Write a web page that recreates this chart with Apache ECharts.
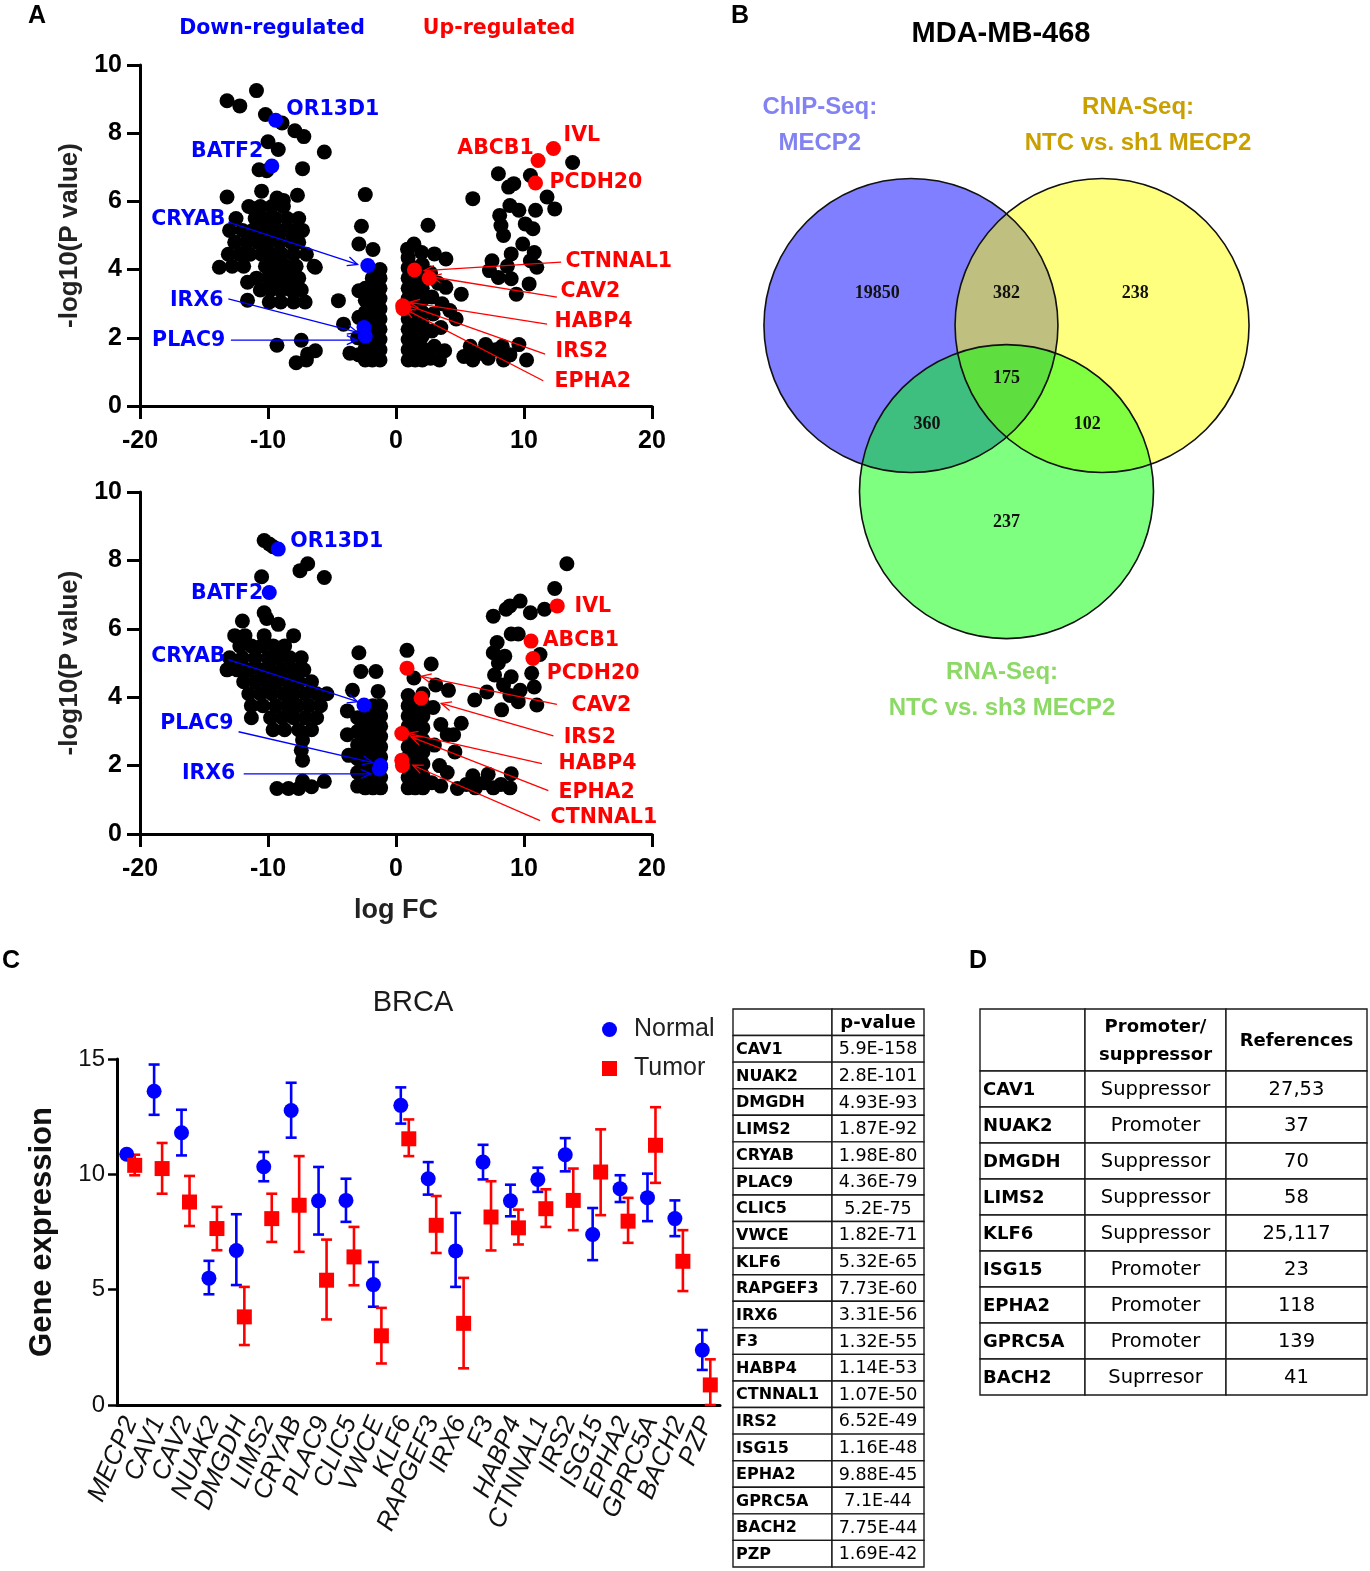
<!DOCTYPE html>
<html>
<head>
<meta charset="utf-8">
<title>MECP2 targets figure</title>
<script src="https://cdn.jsdelivr.net/npm/echarts/dist/echarts.min.js"></script>
<style>
html,body{margin:0;padding:0;background:#ffffff;}
#chart{width:1370px;height:1571px;}
</style>
</head>
<body>
<div id="chart"></div>
<script>
// ===================== DATA =====================
// Panel A (top) volcano: [logFC, -log10(P)]
const volcano1Points = [
 [-10.9,9.25],[-13.2,8.95],[-12.2,8.8],[-10.2,8.55],[-8.9,8.3],[-7.9,8.07],[-7.2,7.9],[-5.6,7.45],[-10.0,7.75],[-9.2,7.52],
 [-10.7,6.93],[-10.1,6.9],[-7.3,6.96],[-13.2,6.13],[-10.5,6.3],[-9.3,6.1],[-8.8,6.03],[-7.7,6.18],[-11.1,5.78],
 [-11.5,5.85],[-10.6,5.85],[-9.7,5.85],[-8.8,5.85],
 [-12.5,5.5],[-11.0,5.5],[-10.2,5.5],[-9.4,5.5],[-8.5,5.5],[-7.6,5.5],
 [-13.0,5.15],[-12.0,5.15],[-11.2,5.15],[-10.4,5.15],[-9.6,5.15],[-8.8,5.15],[-8.0,5.15],[-7.3,5.15],
 [-12.6,4.8],[-11.7,4.8],[-10.8,4.8],[-10.0,4.8],[-9.1,4.8],[-8.2,4.8],[-7.6,4.8],
 [-13.1,4.45],[-12.2,4.45],[-11.4,4.45],[-10.5,4.45],[-9.7,4.45],[-8.9,4.45],[-8.0,4.45],[-7.0,4.45],
 [-12.8,4.1],[-11.9,4.1],[-10.2,4.1],[-9.4,4.1],[-8.6,4.1],[-7.8,4.1],[-6.4,4.1],
 [-10.9,3.75],[-10.0,3.75],[-9.2,3.75],[-8.4,3.75],[-7.6,3.75],
 [-10.6,3.4],[-9.8,3.4],[-9.0,3.4],[-8.2,3.4],[-7.4,3.4],
 [-9.9,3.05],[-9.0,3.05],[-8.0,3.05],[-7.1,3.05],
 [-13.8,4.07],[-11.6,3.63],[-11.6,3.1],[-6.3,4.07],[-4.5,3.09],
 [-9.3,1.78],[-7.4,1.93],[-7.8,1.27],[-6.9,1.52],[-6.3,1.62],[-7.0,1.35],
 [-2.4,6.2],[-2.7,5.27],[-2.9,4.75],[-1.8,4.59],[-2.9,3.38],[-4.1,2.4],[-3.6,1.55],
 [-1.25,1.35],[-1.25,1.65],[-1.25,1.95],[-1.25,2.25],[-1.25,2.55],[-1.25,2.85],[-1.25,3.15],[-1.25,3.45],[-1.25,3.75],[-1.25,4.0],
 [-1.85,1.35],[-1.85,1.65],[-1.85,1.95],[-1.85,2.25],[-1.85,2.55],[-1.85,2.85],[-1.85,3.15],[-1.85,3.45],[-1.85,3.75],
 [-2.4,1.35],[-2.4,1.7],[-2.4,2.05],[-2.4,2.4],[-2.4,2.75],[-2.4,3.1],[-2.4,3.45],
 [-2.9,1.5],[-3.0,2.0],[-2.9,2.6],
 [0.95,1.35],[0.95,1.65],[0.95,1.95],[0.95,2.25],[0.95,2.55],[0.95,2.85],[0.95,3.15],[0.95,3.45],[0.95,3.75],[0.95,4.05],[0.95,4.35],
 [1.5,1.35],[1.5,1.65],[1.5,1.95],[1.5,2.25],[1.5,2.55],[1.5,2.85],[1.5,3.15],[1.5,3.45],[1.5,3.75],[1.5,4.05],
 [2.05,1.35],[2.05,1.7],[2.05,2.05],[2.05,2.4],[2.05,2.75],[2.05,3.1],[2.05,3.45],[2.05,3.8],[2.05,4.15],
 [2.5,5.3],[1.4,4.75],[0.9,4.6],[2.0,4.5],[3.0,4.46],[3.9,4.31],[2.7,3.9],[3.3,3.6],[3.9,3.48],[5.1,3.28],[2.8,3.2],[3.6,3.0],
 [2.9,2.7],[4.2,2.8],[4.7,2.55],[2.8,2.2],[3.5,2.3],[3.0,1.75],[3.8,1.62],[2.7,1.4],[3.4,1.35],
 [5.3,1.45],[6.0,1.35],[6.6,1.55],[7.2,1.4],[7.8,1.65],[8.4,1.35],[8.9,1.5],[9.6,1.8],[10.2,1.35],[5.8,1.75],[7.0,1.8],[8.3,1.75],
 [6.0,6.08],[8.0,6.81],[8.8,6.42],[9.2,6.52],[10.5,6.76],[13.8,7.14],[11.8,6.13],[12.4,5.78],[8.9,5.88],[9.6,5.74],[10.9,5.74],
 [8.1,5.59],[8.2,5.29],[10.1,5.34],[10.7,5.2],[8.4,5.0],[9.9,4.75],[9.0,4.46],[7.5,4.26],[10.5,4.26],[11.0,4.07],[7.3,3.97],
 [8.0,3.77],[9.0,3.73],[10.4,3.58],[9.4,3.28],[8.7,4.1],[10.8,4.5]
];
const volcano1Down = [['OR13D1',-9.4,8.38],['BATF2',-9.7,7.04],['CRYAB',-2.2,4.12],['IRX6',-2.5,2.3],['PLAC9',-2.4,2.05]];
const volcano1Up = [['ABCB1',11.1,7.2],['IVL',12.3,7.55],['PCDH20',10.9,6.54],['CTNNAL1',1.44,3.99],['CAV2',2.6,3.75],['HABP4',0.52,2.94],['IRS2',0.6,2.9],['EPHA2',0.55,2.85]];

// Panel A (bottom) volcano
const volcano2Points = [
 [-10.3,8.58],[-9.9,8.48],[-9.6,8.4],[-6.9,7.9],[-7.5,7.7],[-5.6,7.5],[-10.5,7.52],[-10.3,6.47],[-10.1,6.3],[-12.0,6.23],[-9.2,6.13],
 [-12.6,5.8],[-11.8,5.8],[-10.3,5.8],[-8.0,5.8],
 [-12.2,5.5],[-11.3,5.5],[-10.5,5.5],[-9.6,5.5],[-8.7,5.5],
 [-13.0,5.15],[-12.0,5.15],[-11.0,5.15],[-10.0,5.15],[-9.2,5.15],[-8.3,5.15],[-7.4,5.15],
 [-13.2,4.8],[-12.4,4.8],[-11.5,4.8],[-10.6,4.8],[-9.8,4.8],[-8.9,4.8],[-8.0,4.8],[-7.2,4.8],
 [-11.9,4.45],[-11.0,4.45],[-10.1,4.45],[-9.3,4.45],[-8.4,4.45],[-7.6,4.45],[-6.6,4.45],
 [-11.5,4.1],[-10.6,4.1],[-9.7,4.1],[-8.8,4.1],[-8.0,4.1],[-7.1,4.1],[-6.2,4.1],[-5.4,4.1],
 [-11.3,3.75],[-10.4,3.75],[-9.4,3.75],[-8.5,3.75],[-7.7,3.75],[-6.8,3.75],[-5.9,3.75],
 [-11.3,3.4],[-9.8,3.4],[-8.9,3.4],[-8.0,3.4],[-7.1,3.4],[-6.2,3.4],
 [-9.6,3.05],[-8.7,3.05],[-7.6,3.05],[-6.6,3.05],
 [-7.3,2.75],[-7.3,2.16],[-7.4,2.45],
 [-9.3,1.33],[-8.4,1.33],[-7.6,1.33],[-6.6,1.38],[-5.6,1.54],[-7.3,1.55],
 [-2.9,5.3],[-2.75,4.75],[-1.57,4.75],[-3.4,4.2],[-1.4,4.17],
 [-1.2,1.35],[-1.2,1.65],[-1.2,1.95],[-1.2,2.25],[-1.2,2.55],[-1.2,2.85],[-1.2,3.15],[-1.2,3.45],[-1.2,3.75],
 [-1.8,1.35],[-1.8,1.65],[-1.8,1.95],[-1.8,2.25],[-1.8,2.55],[-1.8,2.85],[-1.8,3.15],[-1.8,3.45],[-1.8,3.75],
 [-2.4,1.35],[-2.4,1.7],[-2.4,2.05],[-2.4,2.4],[-2.4,2.75],[-2.4,3.1],[-2.4,3.45],
 [-3.0,1.4],[-3.0,1.8],[-3.0,2.2],[-3.0,2.6],[-3.0,3.0],[-3.0,3.4],
 [-3.8,3.6],[-3.8,2.9],[-3.7,2.3],
 [0.95,1.35],[0.95,1.65],[0.95,1.95],[0.95,2.25],[0.95,2.55],[0.95,2.85],[0.95,3.15],[0.95,3.45],[0.95,3.75],[0.95,4.05],
 [1.5,1.35],[1.5,1.65],[1.5,1.95],[1.5,2.25],[1.5,2.55],[1.5,2.85],[1.5,3.15],[1.5,3.45],[1.5,3.75],
 [2.1,1.35],[2.1,1.7],[2.1,2.05],[2.1,2.4],[2.1,2.75],[2.1,3.1],[2.1,3.45],[2.1,3.8],[2.1,4.1],
 [0.86,5.37],[1.4,4.56],[2.75,4.97],[3.1,4.36],[4.1,4.2],[5.1,3.24],[2.9,3.7],[3.5,3.2],[4.0,2.9],[3.0,2.6],[4.6,2.4],
 [3.4,2.0],[4.0,1.8],[2.8,1.5],[3.5,1.4],[4.5,2.9],
 [4.8,1.33],[5.5,1.45],[6.2,1.35],[6.9,1.5],[7.6,1.35],[8.2,1.45],[8.9,1.35],[9.0,1.76],[6.0,1.7],[7.2,1.75],
 [13.35,7.9],[12.4,7.18],[11.6,6.57],[10.5,6.47],[9.7,6.81],[8.9,6.67],[8.6,6.57],[7.6,6.37],[9.0,5.85],[9.55,5.85],[7.9,5.6],
 [11.25,5.25],[8.5,5.2],[8.0,5.0],[7.7,4.65],[9.0,4.6],[10.6,4.7],[8.4,4.36],[6.15,3.92],[7.1,4.15],[8.25,3.63],[9.55,3.87],
 [11.0,3.77],[9.7,4.2],[10.8,4.3],[8.9,4.05],[7.6,5.3]
];
const volcano2Down = [['OR13D1',-9.2,8.33],['BATF2',-9.9,7.06],['CRYAB',-2.5,3.77],['PLAC9',-1.2,2.0],['IRX6',-1.3,1.9]];
const volcano2Up = [['IVL',12.6,6.67],['ABCB1',10.55,5.64],['PCDH20',10.7,5.13],['CAV2',0.86,4.85],['IRS2',1.96,3.97],['HABP4',0.45,2.94],['EPHA2',0.45,2.16],['CTNNAL1',0.5,2.0]];
const volcanoXTicks = [-20, 10]; // min, interval
const volcanoYTicks = [0, 2];

// Panel B: Venn
const vennSetNames = ['ChIP-Seq:\nMECP2', 'RNA-Seq:\nNTC vs. sh1 MECP2', 'RNA-Seq:\nNTC vs. sh3 MECP2'];
const vennTitle = 'MDA-MB-468';
const vennRegionNames = ['ChIP only', 'ChIP & sh1', 'sh1 only', 'all three', 'ChIP & sh3', 'sh1 & sh3', 'sh3 only'];
const vennCounts = [19850, 382, 238, 175, 360, 102, 237];

// Panel C: gene expression BRCA
const exprGenes = ['MECP2','CAV1','CAV2','NUAK2','DMGDH','LIMS2','CRYAB','PLAC9','CLIC5','VWCE','KLF6','RAPGEF3','IRX6','F3','HABP4','CTNNAL1','IRS2','ISG15','EPHA2','GPRC5A','BACH2','PZP'];
const normalMean = [10.87,13.6,11.8,5.5,6.7,10.33,12.77,8.85,8.87,5.22,12.99,9.81,6.68,10.53,8.85,9.78,10.85,7.39,9.38,8.99,8.08,2.38];
const normalLow  = [10.75,12.58,10.82,4.8,5.2,9.7,11.59,7.39,7.94,4.26,12.2,9.12,5.12,9.78,8.18,9.24,10.13,6.28,8.8,7.97,7.32,1.52];
const normalHigh = [11.0,14.76,12.8,6.25,8.27,10.97,13.97,10.32,9.81,6.2,13.77,10.53,8.33,11.28,9.55,10.29,11.57,8.54,9.96,10.03,8.87,3.25];
const tumorMean  = [10.39,10.25,8.8,7.65,3.82,8.08,8.66,5.41,6.42,3.0,11.54,7.79,3.54,8.15,7.68,8.51,8.87,10.1,7.97,11.26,6.23,0.87];
const tumorLow   = [9.96,9.16,7.76,6.71,2.6,7.07,6.64,3.71,5.19,1.8,10.79,6.59,1.59,6.7,6.96,7.72,7.58,8.23,7.03,9.63,4.94,0.0];
const tumorHigh  = [10.85,11.36,9.93,8.59,5.12,9.16,10.79,7.17,7.72,4.21,12.38,9.06,5.51,9.7,8.47,9.35,10.25,11.95,8.98,12.91,7.58,1.98];
const exprYTicks = [0, 5];

// p-value table
const pvalGenes = ['CAV1','NUAK2','DMGDH','LIMS2','CRYAB','PLAC9','CLIC5','VWCE','KLF6','RAPGEF3','IRX6','F3','HABP4','CTNNAL1','IRS2','ISG15','EPHA2','GPRC5A','BACH2','PZP'];
const pvalValues = ['5.9E-158','2.8E-101','4.93E-93','1.87E-92','1.98E-80','4.36E-79','5.2E-75','1.82E-71','5.32E-65','7.73E-60','3.31E-56','1.32E-55','1.14E-53','1.07E-50','6.52E-49','1.16E-48','9.88E-45','7.1E-44','7.75E-44','1.69E-42'];

// Panel D table
const roleGenes = ['CAV1','NUAK2','DMGDH','LIMS2','KLF6','ISG15','EPHA2','GPRC5A','BACH2'];
const roleType  = ['Suppressor','Promoter','Suppressor','Suppressor','Suppressor','Promoter','Promoter','Promoter','Suprresor'];
const roleRefs  = ['27,53','37','70','58','25,117','23','118','139','41'];

// ===================== LAYOUT / STYLE =====================
const F_ARIAL = "'Liberation Sans', Arial, sans-serif";
const F_WIDE = "'DejaVu Sans', Verdana, sans-serif";
const F_SERIF = "'Liberation Serif', 'Times New Roman', serif";
const BLUE = '#0000ff', RED = '#ff0000';

// annotation layout: [gene, labelX, labelY, align, arrowFromX, arrowFromY, arrowToX, arrowToY]
const VOLCANO1_ANNOT = [
 ['OR13D1', -8.57, 8.68, 'left'],
 ['BATF2', -10.37, 7.45, 'right'],
 ['CRYAB', -13.33, 5.45, 'right', -13.1, 5.39, -3.0, 4.15],
 ['IRX6', -13.48, 3.08, 'right', -13.1, 3.14, -3.0, 2.16],
 ['PLAC9', -13.33, 1.91, 'right', -12.9, 1.93, -3.06, 1.93],
 ['ABCB1', 10.76, 7.54, 'right'],
 ['IVL', 13.09, 7.92, 'left'],
 ['PCDH20', 12.0, 6.54, 'left'],
 ['CTNNAL1', 13.25, 4.22, 'left', 12.9, 4.22, 2.2, 3.97],
 ['CAV2', 12.86, 3.34, 'left', 12.57, 3.19, 2.75, 3.79],
 ['HABP4', 12.39, 2.46, 'left', 11.8, 2.4, 1.05, 3.04],
 ['IRS2', 12.47, 1.58, 'left', 11.65, 1.52, 0.65, 2.99],
 ['EPHA2', 12.39, 0.70, 'left', 11.5, 0.74, 0.7, 2.84]
];
const VOLCANO2_ANNOT = [
 ['OR13D1', -8.26, 8.54, 'left'],
 ['BATF2', -10.37, 7.02, 'right'],
 ['CRYAB', -13.33, 5.18, 'right', -13.1, 5.1, -3.0, 3.87],
 ['PLAC9', -12.7, 3.22, 'right', -12.3, 2.99, -1.83, 2.09],
 ['IRX6', -12.55, 1.75, 'right', -11.9, 1.76, -1.96, 1.76],
 ['IVL', 13.95, 6.64, 'left'],
 ['ABCB1', 11.46, 5.64, 'left'],
 ['PCDH20', 11.77, 4.68, 'left'],
 ['CAV2', 13.72, 3.74, 'left', 12.57, 3.79, 1.96, 4.61],
 ['IRS2', 13.1, 2.81, 'left', 12.3, 2.87, 3.53, 3.82],
 ['HABP4', 12.7, 2.05, 'left', 11.4, 2.06, 0.92, 2.94],
 ['EPHA2', 12.7, 1.2, 'left', 11.9, 1.27, 1.18, 2.84],
 ['CTNNAL1', 12.08, 0.47, 'left', 11.26, 0.39, 1.31, 2.01]
];

const VENN_CENTERS = [[-0.65, 0], [0.65, 0], [0, -1.13]];
const VENN_R = 1.0;
const VENN_FILLS = ['rgba(0,0,255,0.5)', 'rgba(255,255,0,0.5)', 'rgba(0,255,0,0.5)'];
const VENN_COUNT_POS = [[-0.88,0.22],[0,0.22],[0.875,0.22],[0,-0.357],[-0.54,-0.67],[0.55,-0.67],[0,-1.34]];
const VENN_LABEL_POS = [[-1.27,1.364],[0.895,1.364],[-0.03,-2.48]];
const VENN_LABEL_COLORS = ['#8282f2','#c9a000','#8cd966'];

const P_COLS = [0, 99, 191];
const P_ROW_H = 26.57;
const P_ROWS = []; for (let i = 0; i <= pvalGenes.length + 1; i++) P_ROWS.push(i * P_ROW_H);
const D_COLS = [0, 105, 246, 387];
const D_ROWS = [0, 62, 98, 134, 170, 206, 242, 278, 314, 350, 386];

// ===================== HELPERS =====================
function volcanoXAxis(gi, name) {
  return {
    type: 'value', gridIndex: gi, min: volcanoXTicks[0], max: 20, interval: volcanoXTicks[1],
    axisLine: {onZero: false, lineStyle: {color: '#000', width: 3}},
    axisTick: {length: 13, lineStyle: {color: '#000', width: 3}},
    axisLabel: {margin: 23, color: '#000', fontSize: 25, fontWeight: 'bold', fontFamily: F_ARIAL},
    splitLine: {show: false},
    name: name, nameLocation: 'middle', nameGap: 63,
    nameTextStyle: {color: '#222', fontSize: 27, fontWeight: 'bold', fontFamily: F_ARIAL}
  };
}
function volcanoYAxis(gi) {
  return {
    type: 'value', gridIndex: gi, min: volcanoYTicks[0], max: 10, interval: volcanoYTicks[1],
    axisLine: {onZero: false, lineStyle: {color: '#000', width: 3}},
    axisTick: {length: 13, lineStyle: {color: '#000', width: 3}},
    axisLabel: {margin: 18, color: '#000', fontSize: 25, fontWeight: 'bold', fontFamily: F_ARIAL},
    splitLine: {show: false},
    name: '-log10(P value)', nameLocation: 'middle', nameGap: 57,
    nameTextStyle: {color: '#222', fontSize: 26, fontWeight: 'bold', fontFamily: F_ARIAL}
  };
}
function hiddenAxis(gi, max, inverse, min) {
  return {type: 'value', gridIndex: gi, min: min === undefined ? 0 : min, max: max, inverse: !!inverse, show: false,
    axisLine: {show: false}, axisTick: {show: false}, axisLabel: {show: false}, splitLine: {show: false}};
}

function volcanoSeries(gi, points, down, up, annot) {
  const downNames = down.map(d => d[0]);
  const arrows = annot.filter(a => a.length > 4);
  return [
    {type: 'scatter', xAxisIndex: gi, yAxisIndex: gi, silent: true, z: 2, symbolSize: 15,
      itemStyle: {color: '#000', opacity: 1}, data: points},
    {type: 'scatter', xAxisIndex: gi, yAxisIndex: gi, silent: true, z: 3, symbolSize: 15,
      itemStyle: {color: BLUE, opacity: 1}, data: down.map(d => ({name: d[0], value: [d[1], d[2]]}))},
    {type: 'scatter', xAxisIndex: gi, yAxisIndex: gi, silent: true, z: 3, symbolSize: 15,
      itemStyle: {color: RED, opacity: 1}, data: up.map(d => ({name: d[0], value: [d[1], d[2]]}))},
    {type: 'custom', xAxisIndex: gi, yAxisIndex: gi, silent: true, z: 4, clip: false,
      data: arrows.map(a => [a[4], a[5], a[6], a[7]]),
      renderItem: function (params, api) {
        const a = arrows[params.dataIndex];
        const color = downNames.indexOf(a[0]) >= 0 ? BLUE : RED;
        const p1 = api.coord([api.value(0), api.value(1)]);
        const p2 = api.coord([api.value(2), api.value(3)]);
        const ang = Math.atan2(p1[1] - p2[1], p1[0] - p2[0]);
        const L = 11, h = 0.42;
        const h1 = [p2[0] + L * Math.cos(ang + h), p2[1] + L * Math.sin(ang + h)];
        const h2 = [p2[0] + L * Math.cos(ang - h), p2[1] + L * Math.sin(ang - h)];
        return {type: 'group', children: [
          {type: 'line', shape: {x1: p1[0], y1: p1[1], x2: p2[0], y2: p2[1]}, style: {stroke: color, lineWidth: 1.3}},
          {type: 'polyline', shape: {points: [h1, p2, h2]}, style: {stroke: color, lineWidth: 1.3, fill: 'none'}}
        ]};
      }},
    {type: 'custom', xAxisIndex: gi, yAxisIndex: gi, silent: true, z: 5, clip: false,
      data: annot.map(a => [a[1], a[2]]),
      renderItem: function (params, api) {
        const a = annot[params.dataIndex];
        const color = downNames.indexOf(a[0]) >= 0 ? BLUE : RED;
        const p = api.coord([api.value(0), api.value(1)]);
        return {type: 'text', style: {text: a[0], x: p[0], y: p[1], textAlign: a[3], textVerticalAlign: 'middle',
          fill: color, fontSize: 20.5, fontWeight: 'bold', fontFamily: F_WIDE}};
      }}
  ];
}

function errorBarSeries(name, low, high, color, offset) {
  return {
    type: 'custom', name: name, xAxisIndex: 2, yAxisIndex: 2, silent: true, z: 3,
    data: exprGenes.map((g, i) => [i, low[i], high[i]]),
    renderItem: function (params, api) {
      const lo = api.coord([api.value(0), api.value(1)]);
      const hi = api.coord([api.value(0), api.value(2)]);
      const x = lo[0] + offset, w = 5.5;
      const st = {stroke: color, lineWidth: 2.6};
      return {type: 'group', children: [
        {type: 'line', shape: {x1: x, y1: lo[1], x2: x, y2: hi[1]}, style: st},
        {type: 'line', shape: {x1: x - w, y1: lo[1], x2: x + w, y2: lo[1]}, style: st},
        {type: 'line', shape: {x1: x - w, y1: hi[1], x2: x + w, y2: hi[1]}, style: st}
      ]};
    }
  };
}

function tableSeries(gi, cols, rows, cells) {
  return {
    type: 'custom', xAxisIndex: gi, yAxisIndex: gi, silent: true, z: 2, clip: false,
    data: cells.map(c => [c.c, c.r]),
    renderItem: function (params, api) {
      const cell = cells[params.dataIndex];
      const c = api.value(0), r = api.value(1);
      const p0 = api.coord([cols[c], rows[r]]);
      const p1 = api.coord([cols[c + 1], rows[r + 1]]);
      const x = Math.min(p0[0], p1[0]), y = Math.min(p0[1], p1[1]);
      const w = Math.abs(p1[0] - p0[0]), h = Math.abs(p1[1] - p0[1]);
      const tx = cell.align === 'left' ? x + 3 : x + w / 2;
      return {type: 'group', children: [
        {type: 'rect', shape: {x: x, y: y, width: w, height: h}, style: {fill: '#fff', stroke: '#1a1a1a', lineWidth: 1.4}},
        {type: 'text', style: {text: cell.text, x: tx, y: y + h / 2 + 1, textAlign: cell.align, textVerticalAlign: 'middle',
          fill: '#000', fontSize: cell.size, fontWeight: cell.bold ? 'bold' : 'normal', fontFamily: F_WIDE,
          lineHeight: Math.round(cell.size * 1.55)}}
      ]};
    }
  };
}

const pCells = [{c: 0, r: 0, text: '', align: 'center', size: 18},
  {c: 1, r: 0, text: 'p-value', bold: true, align: 'center', size: 18}];
pvalGenes.forEach((g, i) => {
  pCells.push({c: 0, r: i + 1, text: g, bold: true, align: 'left', size: 16});
  pCells.push({c: 1, r: i + 1, text: pvalValues[i], align: 'center', size: 17.5});
});
const dCells = [{c: 0, r: 0, text: '', align: 'center', size: 18},
  {c: 1, r: 0, text: 'Promoter/\nsuppressor', bold: true, align: 'center', size: 18},
  {c: 2, r: 0, text: 'References', bold: true, align: 'center', size: 18}];
roleGenes.forEach((g, i) => {
  dCells.push({c: 0, r: i + 1, text: g, bold: true, align: 'left', size: 18});
  dCells.push({c: 1, r: i + 1, text: roleType[i], align: 'center', size: 19.5});
  dCells.push({c: 2, r: i + 1, text: roleRefs[i], align: 'center', size: 19.5});
});

function txt(text, x, y, font, color, align) {
  return {type: 'text', x: x, y: y, silent: true, z: 10,
    style: {text: text, font: font, fill: color || '#000', textAlign: align || 'center', textVerticalAlign: 'middle'}};
}

// ===================== OPTION =====================
const chart = echarts.init(document.getElementById('chart'), null, {renderer: 'canvas'});
const option = {
  animation: false,
  backgroundColor: '#ffffff',
  grid: [
    {left: 140, top: 65, width: 512, height: 341, outerBoundsMode: 'none'},
    {left: 140, top: 492, width: 512, height: 342, outerBoundsMode: 'none'},
    {left: 117, top: 1059, width: 603, height: 346, outerBoundsMode: 'none'},
    {left: 712.5, top: 90.3, width: 588, height: 617.4, outerBoundsMode: 'none'},
    {left: 733, top: 1009, width: P_COLS[P_COLS.length - 1], height: P_ROWS[P_ROWS.length - 1], outerBoundsMode: 'none'},
    {left: 980, top: 1009, width: D_COLS[D_COLS.length - 1], height: D_ROWS[D_ROWS.length - 1], outerBoundsMode: 'none'}
  ],
  xAxis: [
    volcanoXAxis(0, ''),
    volcanoXAxis(1, 'log FC'),
    {type: 'category', gridIndex: 2, data: exprGenes, boundaryGap: true,
      axisLine: {lineStyle: {color: '#000', width: 3}},
      axisTick: {alignWithLabel: true, length: 11, lineStyle: {color: '#000', width: 2.5}},
      axisLabel: {interval: 0, rotate: 67, margin: 13, color: '#111', fontSize: 26, fontStyle: 'italic', fontFamily: F_ARIAL},
      splitLine: {show: false}},
    hiddenAxis(3, 2, false, -2),
    hiddenAxis(4, P_COLS[P_COLS.length - 1]),
    hiddenAxis(5, D_COLS[D_COLS.length - 1])
  ],
  yAxis: [
    volcanoYAxis(0),
    volcanoYAxis(1),
    {type: 'value', gridIndex: 2, min: exprYTicks[0], max: 15, interval: exprYTicks[1],
      axisLine: {show: true, lineStyle: {color: '#000', width: 3}},
      axisTick: {show: true, length: 9, lineStyle: {color: '#000', width: 2.5}},
      axisLabel: {margin: 12, color: '#111', fontSize: 24, fontFamily: F_ARIAL},
      splitLine: {show: false},
      name: 'Gene expression', nameLocation: 'middle', nameGap: 59,
      nameTextStyle: {color: '#111', fontSize: 31, fontWeight: 'bold', fontFamily: F_ARIAL}},
    hiddenAxis(3, 1.6, false, -2.6),
    hiddenAxis(4, P_ROWS[P_ROWS.length - 1], true),
    hiddenAxis(5, D_ROWS[D_ROWS.length - 1], true)
  ],
  legend: {
    data: [{name: 'Normal', icon: 'circle'}, {name: 'Tumor', icon: 'rect'}],
    orient: 'vertical', left: 597, top: 1012, itemWidth: 15, itemHeight: 15, itemGap: 14,
    selectedMode: false,
    textStyle: {fontSize: 25, fontFamily: F_ARIAL, color: '#222', padding: [0, 0, 0, 12]}
  },
  graphic: [
    txt('A', 37, 16, 'bold 25px ' + F_ARIAL),
    txt('B', 740, 16, 'bold 25px ' + F_ARIAL),
    txt('C', 11, 961, 'bold 25px ' + F_ARIAL),
    txt('D', 978, 961, 'bold 25px ' + F_ARIAL),
    txt('Down-regulated', 272, 29, 'bold 20.5px ' + F_WIDE, BLUE),
    txt('Up-regulated', 499, 29, 'bold 20.5px ' + F_WIDE, RED),
    txt(vennTitle, 1001, 34, 'bold 29px ' + F_ARIAL),
    txt('BRCA', 413, 1003, '29px ' + F_ARIAL, '#1a1a1a')
  ],
  series: [].concat(
    volcanoSeries(0, volcano1Points, volcano1Down, volcano1Up, VOLCANO1_ANNOT),
    volcanoSeries(1, volcano2Points, volcano2Down, volcano2Up, VOLCANO2_ANNOT),
    [
      errorBarSeries('Normal SD', normalLow, normalHigh, BLUE, -4),
      errorBarSeries('Tumor SD', tumorLow, tumorHigh, RED, 4),
      {type: 'scatter', name: 'Normal', xAxisIndex: 2, yAxisIndex: 2, silent: true, z: 4, symbol: 'circle', symbolSize: 15,
        symbolOffset: [-4, 0], itemStyle: {color: BLUE, opacity: 1}, data: normalMean},
      {type: 'scatter', name: 'Tumor', xAxisIndex: 2, yAxisIndex: 2, silent: true, z: 4, symbol: 'rect', symbolSize: 15,
        symbolOffset: [4, 0], itemStyle: {color: RED, opacity: 1}, data: tumorMean},
      // Venn fills
      {type: 'custom', xAxisIndex: 3, yAxisIndex: 3, silent: true, z: 2, clip: false,
        data: VENN_CENTERS.map(c => [c[0], c[1]]),
        renderItem: function (params, api) {
          const c = api.coord([api.value(0), api.value(1)]);
          const r = api.size([VENN_R, VENN_R])[0];
          return {type: 'circle', shape: {cx: c[0], cy: c[1], r: r}, style: {fill: VENN_FILLS[params.dataIndex], stroke: null}};
        }},
      // Venn outlines
      {type: 'custom', xAxisIndex: 3, yAxisIndex: 3, silent: true, z: 3, clip: false,
        data: VENN_CENTERS.map(c => [c[0], c[1]]),
        renderItem: function (params, api) {
          const c = api.coord([api.value(0), api.value(1)]);
          const r = api.size([VENN_R, VENN_R])[0];
          return {type: 'circle', shape: {cx: c[0], cy: c[1], r: r}, style: {fill: 'none', stroke: '#111', lineWidth: 1.6}};
        }},
      // Venn counts
      {type: 'custom', xAxisIndex: 3, yAxisIndex: 3, silent: true, z: 4, clip: false,
        data: VENN_COUNT_POS.map(p => [p[0], p[1]]),
        renderItem: function (params, api) {
          const p = api.coord([api.value(0), api.value(1)]);
          return {type: 'text', style: {text: String(vennCounts[params.dataIndex]), x: p[0], y: p[1],
            textAlign: 'center', textVerticalAlign: 'middle', fill: '#111', fontSize: 18, fontWeight: 'bold', fontFamily: F_SERIF}};
        }},
      // Venn set labels
      {type: 'custom', xAxisIndex: 3, yAxisIndex: 3, silent: true, z: 4, clip: false,
        data: VENN_LABEL_POS.map(p => [p[0], p[1]]),
        renderItem: function (params, api) {
          const p = api.coord([api.value(0), api.value(1)]);
          return {type: 'text', style: {text: vennSetNames[params.dataIndex], x: p[0], y: p[1],
            textAlign: 'center', textVerticalAlign: 'middle', fill: VENN_LABEL_COLORS[params.dataIndex],
            fontSize: 24, fontWeight: 'bold', fontFamily: F_ARIAL, lineHeight: 36}};
        }},
      tableSeries(4, P_COLS, P_ROWS, pCells),
      tableSeries(5, D_COLS, D_ROWS, dCells)
    ]
  )
};
chart.setOption(option);
</script>
</body>
</html>
